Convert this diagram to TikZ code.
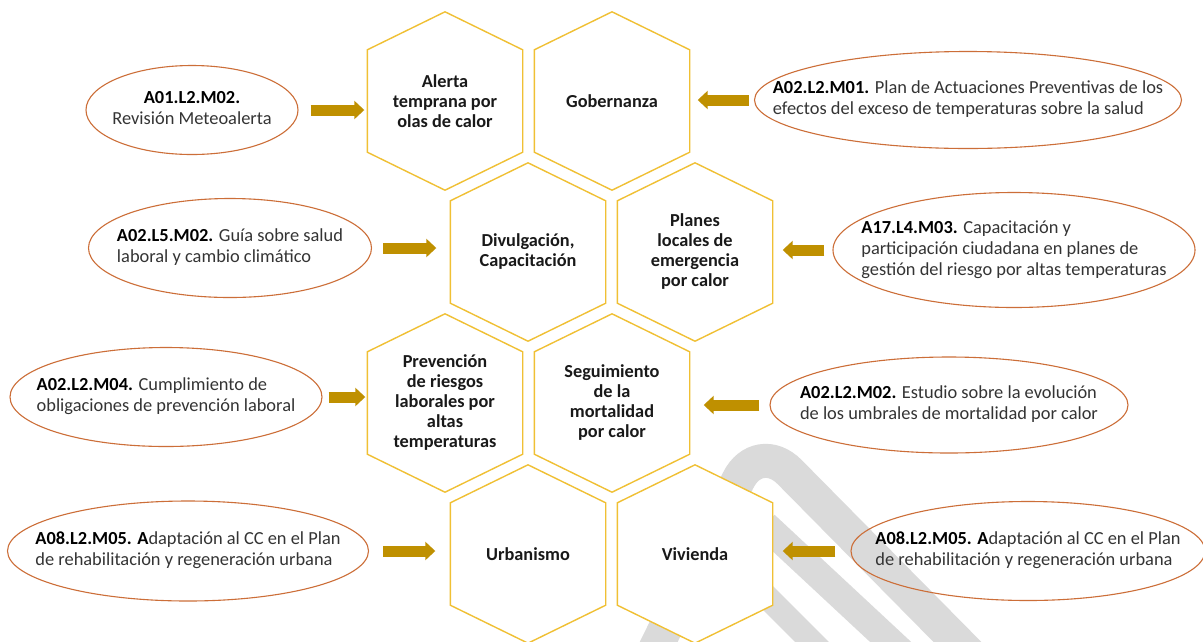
\documentclass[tikz,border=0pt]{standalone}
\usepackage{fontspec}
\setmainfont{Carlito}
\usetikzlibrary{
    arrows.meta,
    positioning,
    shapes.geometric,
    calc,
    backgrounds
}

\definecolor{hexgold}{RGB}{240,192,52}
\definecolor{arrowgold}{RGB}{191,144,0}
\definecolor{actline}{RGB}{204,110,56}
\definecolor{acttext}{RGB}{52,52,52}
\definecolor{markgray}{RGB}{218,218,218}

% code in bold, rest of the text in grey
\newcommand{\code}[1]{\textcolor{black}{\textbf{#1}}}
\newcommand{\actl}[1]{\makebox[0pt]{\begin{tabular}{@{}l@{}}#1\end{tabular}}}
\newcommand{\actc}[1]{\makebox[0pt]{\begin{tabular}{@{}c@{}}#1\end{tabular}}}

\begin{document}
\begin{tikzpicture}[
  x=1pt, y=-1pt,
  >=Latex,
  topic/.style   = {rectangle, inner sep=0pt, align=center,
                    minimum width=155pt, minimum height=178pt,
                    font=\fontsize{18.3}{20}\selectfont\bfseries, text=black!90},
  hexline/.style = {draw=hexgold, line width=1.4pt, fill=white},
  action/.style  = {ellipse, draw=actline, line width=1.1pt, inner sep=0pt,
                    font=\fontsize{18.4}{21}\selectfont, text=acttext},
  flow/.style    = {draw=arrowgold, line width=11pt,
                    -{Triangle[length=10pt,width=18pt]}},
  wmark/.style   = {draw=markgray}
]
\useasboundingbox (0,0) rectangle (1203,641);

% Topics (hexagons)
\node[topic] (alerta)      at (445,101) {Alerta\\temprana por\\olas de calor};
\node[topic] (gobernanza)  at (612,101) {Gobernanza};
\node[topic] (divulga)     at (528,252) {Divulgación,\\Capacitación};
\node[topic] (planes)      at (695,252) {Planes\\locales de\\emergencia\\por calor};
\node[topic] (prevencion)  at (445,403) {Prevención\\de riesgos\\laborales por\\altas\\temperaturas};
\node[topic] (seguimiento) at (612,403) {Seguimiento\\de la\\mortalidad\\por calor};
\node[topic] (urbanismo)   at (528,554) {Urbanismo};
\node[topic] (vivienda)    at (695,554) {Vivienda};

% Actions (ellipses)
\node[action, minimum width=212pt, minimum height=89pt]  (a01m02) at (192,110)
  {\actc{\code{A01.L2.M02.}\\Revisión Meteoalerta}};
\node[action, minimum width=427pt, minimum height=97pt]  (a02m01) at (968,100)
  {\actl{\code{A02.L2.M01.} Plan de Actuaciones Preventivas de los\\efectos del exceso de temperaturas sobre la salud}};
\node[action, minimum width=283pt, minimum height=99pt]  (a02l5) at (230,248)
  {\actl{\code{A02.L5.M02.} Guía sobre salud\\laboral y cambio climático}};
\node[action, minimum width=362pt, minimum height=115pt] (a17l4) at (1014,250)
  {\actl{\code{A17.L4.M03.} Capacitación y\\participación ciudadana en planes de\\gestión del riesgo por altas temperaturas}};
\node[action, minimum width=312pt, minimum height=99pt]  (a02m04) at (166,397)
  {\actl{\code{A02.L2.M04.} Cumplimiento de\\obligaciones de prevención laboral}};
\node[action, minimum width=358pt, minimum height=96pt]  (a02m02) at (949,405)
  {\actl{\code{A02.L2.M02.} Estudio sobre la evolución\\de los umbrales de mortalidad por calor}};
\node[action, minimum width=361pt, minimum height=100pt] (a08urb) at (188,551)
  {\actl{\code{A08.L2.M05. A}daptación al CC en el Plan\\de rehabilitación y regeneración urbana}};
\node[action, minimum width=354pt, minimum height=99pt]  (a08viv) at (1028,551)
  {\actl{\code{A08.L2.M05. A}daptación al CC en el Plan\\de rehabilitación y regeneración urbana}};

% Arrows towards the topics
\draw[flow] ([xshift=12pt]a01m02.east) -- ([xshift=-3pt]a01m02.east -| alerta.west);
\draw[flow] ([xshift=-5pt]a02m01.west) -- ([xshift=8pt]a02m01.west -| gobernanza.east);
\draw[flow] ([xshift=11pt]a02l5.east)  -- ([xshift=-14pt]a02l5.east -| divulga.west);
\draw[flow] ([xshift=-8pt]a17l4.west)  -- ([xshift=10pt]a17l4.west -| planes.east);
\draw[flow] ([xshift=6pt]a02m04.east)  -- ([xshift=-2pt]a02m04.east -| prevencion.west);
\draw[flow] ([xshift=-10pt]a02m02.west) -- ([xshift=14pt]a02m02.west -| seguimiento.east);
\draw[flow] ([xshift=14pt]a08urb.east) -- ([xshift=-15pt]a08urb.east -| urbanismo.west);
\draw[flow] ([xshift=-15pt]a08viv.west) -- ([xshift=10pt]a08viv.west -| vivienda.east);

\begin{scope}[on background layer]
  \fill[white] (0,0) rectangle (1203,641);
  % watermark
  \draw[wmark, line width=34pt, rounded corners=45pt] (640,680) -- (758,440) -- (995,680);
  \draw[wmark, line width=28pt] (765,525) -- (910,660);
  \draw[wmark, line width=24pt] (760,590) -- (835,665);
  % hexagon outlines
  \foreach \h in {alerta,gobernanza,divulga,planes,prevencion,seguimiento,urbanismo,vivienda}
    \draw[hexline] (\h.north) -- ($(\h.north east)+(0,38)$) -- ($(\h.south east)+(0,-38)$)
      -- (\h.south) -- ($(\h.south west)+(0,-38)$) -- ($(\h.north west)+(0,38)$) -- cycle;
\end{scope}

\end{tikzpicture}
\end{document}
